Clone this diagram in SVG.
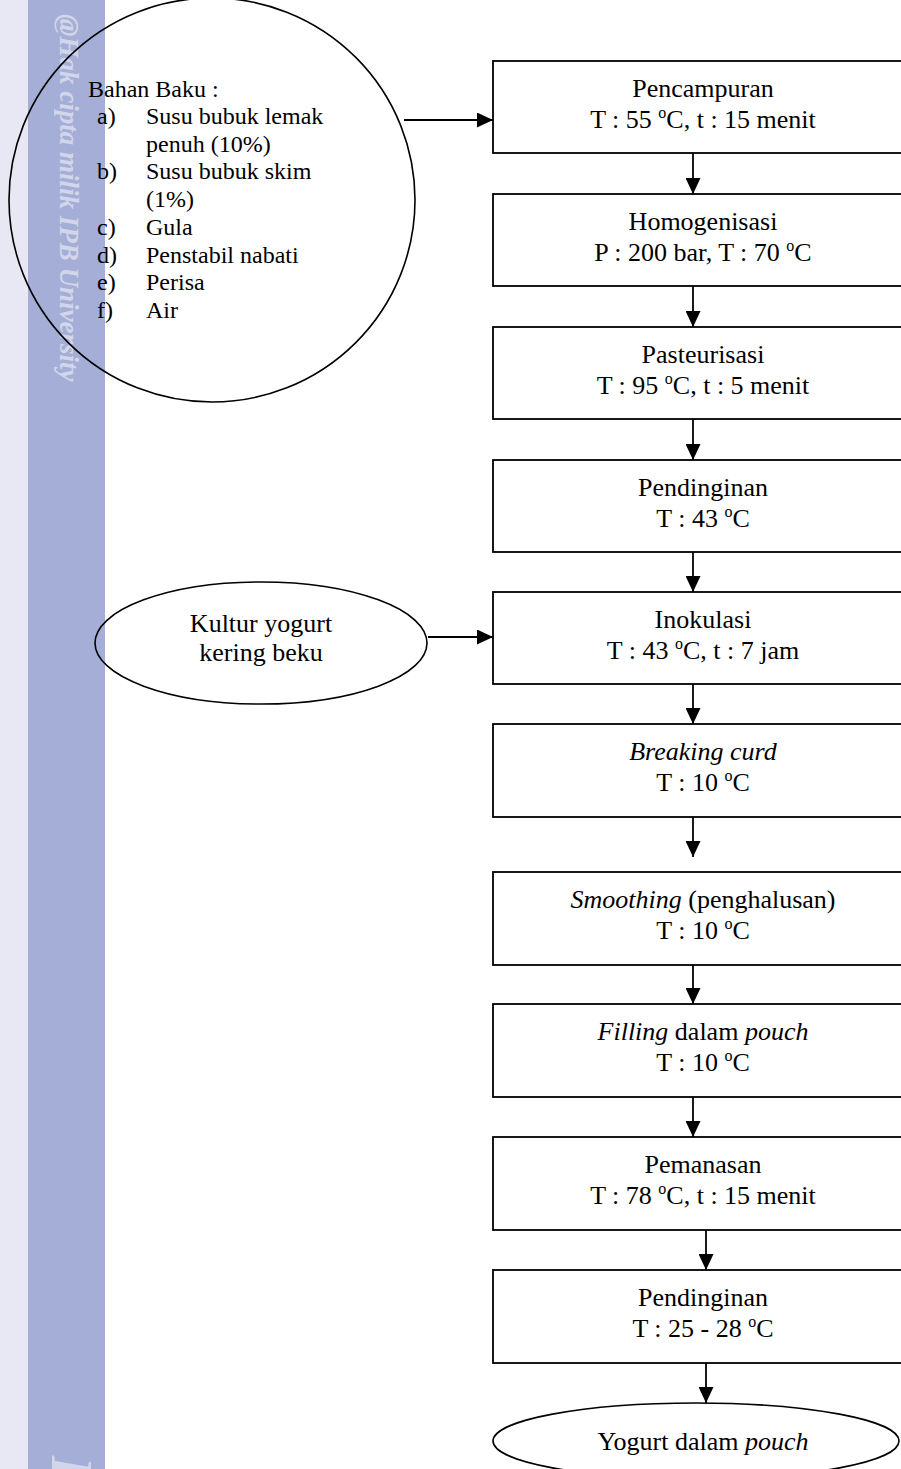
<svg xmlns="http://www.w3.org/2000/svg" width="901" height="1469" viewBox="0 0 901 1469">
<defs>
<style>
.box{fill:#fff;stroke:#000;stroke-width:1.8}
.oval{fill:none;stroke:#000;stroke-width:1.6}
.t{font-family:"Liberation Serif","Times New Roman",serif;font-size:26px;fill:#000;text-anchor:middle}
.l{font-family:"Liberation Serif","Times New Roman",serif;font-size:24px;fill:#000}
.i{font-style:italic}
.s{font-size:16px}
.wm{font-family:"Liberation Serif","Times New Roman",serif;font-weight:bold;font-style:italic;fill:#fff;opacity:.5}
#connectors line{stroke:#000;stroke-width:1.8;marker-end:url(#arr)}
</style>
<marker id="arr" markerUnits="userSpaceOnUse" markerWidth="16" markerHeight="15" refX="16" refY="7.5" orient="auto">
<path d="M0,0 L16,7.5 L0,15 Z" fill="#000"/>
</marker>
</defs>
<rect width="901" height="1469" fill="#fff"/>
<g id="sidebar">
<rect x="0" y="0" width="28" height="1469" fill="#E8E8F4"/>
<rect x="28" y="0" width="77" height="1469" fill="#A5AED6"/>
<text class="wm" font-size="27" transform="translate(60,14) rotate(90)">@Hak cipta milik IPB University</text>
<text class="wm" font-size="60" transform="translate(52,1456) rotate(90)" opacity=".8">I</text>
</g>
<g id="bahan-baku">
<ellipse class="oval" cx="212" cy="200" rx="203" ry="202"/>
<text class="l" x="88" y="97">Bahan Baku :</text>
<text class="l" x="97" y="124">a)</text><text class="l" x="146" y="124">Susu bubuk lemak</text>
<text class="l" x="146" y="152">penuh (10%)</text>
<text class="l" x="97" y="179">b)</text><text class="l" x="146" y="179">Susu bubuk skim</text>
<text class="l" x="146" y="207">(1%)</text>
<text class="l" x="97" y="235">c)</text><text class="l" x="146" y="235">Gula</text>
<text class="l" x="97" y="263">d)</text><text class="l" x="146" y="263">Penstabil nabati</text>
<text class="l" x="97" y="290">e)</text><text class="l" x="146" y="290">Perisa</text>
<text class="l" x="97" y="318">f)</text><text class="l" x="146" y="318">Air</text>
</g>
<g id="kultur">
<ellipse class="oval" cx="261" cy="643" rx="166" ry="61"/>
<text class="t" x="261" y="632">Kultur yogurt</text>
<text class="t" x="261" y="661">kering beku</text>
</g>
<g id="pencampuran">
<rect class="box" x="493" y="61" width="420" height="92"/>
<text class="t" x="703" y="97">Pencampuran</text>
<text class="t" x="703" y="128">T : 55 <tspan class="s" dy="-10">o</tspan><tspan dy="10">C, t : 15 menit</tspan></text>
</g>
<g id="homogenisasi">
<rect class="box" x="493" y="194" width="420" height="92"/>
<text class="t" x="703" y="230">Homogenisasi</text>
<text class="t" x="703" y="261">P : 200 bar, T : 70 <tspan class="s" dy="-10">o</tspan><tspan dy="10">C</tspan></text>
</g>
<g id="pasteurisasi">
<rect class="box" x="493" y="327" width="420" height="92"/>
<text class="t" x="703" y="363">Pasteurisasi</text>
<text class="t" x="703" y="394">T : 95 <tspan class="s" dy="-10">o</tspan><tspan dy="10">C, t : 5 menit</tspan></text>
</g>
<g id="pendinginan1">
<rect class="box" x="493" y="460" width="420" height="92"/>
<text class="t" x="703" y="496">Pendinginan</text>
<text class="t" x="703" y="527">T : 43 <tspan class="s" dy="-10">o</tspan><tspan dy="10">C</tspan></text>
</g>
<g id="inokulasi">
<rect class="box" x="493" y="592" width="420" height="92"/>
<text class="t" x="703" y="628">Inokulasi</text>
<text class="t" x="703" y="659">T : 43 <tspan class="s" dy="-10">o</tspan><tspan dy="10">C, t : 7 jam</tspan></text>
</g>
<g id="breaking-curd">
<rect class="box" x="493" y="724" width="420" height="93"/>
<text class="t i" x="703" y="760">Breaking curd</text>
<text class="t" x="703" y="791">T : 10 <tspan class="s" dy="-10">o</tspan><tspan dy="10">C</tspan></text>
</g>
<g id="smoothing">
<rect class="box" x="493" y="872" width="420" height="93"/>
<text class="t" x="703" y="908"><tspan class="i">Smoothing</tspan> (penghalusan)</text>
<text class="t" x="703" y="939">T : 10 <tspan class="s" dy="-10">o</tspan><tspan dy="10">C</tspan></text>
</g>
<g id="filling">
<rect class="box" x="493" y="1004" width="420" height="93"/>
<text class="t" x="703" y="1040"><tspan class="i">Filling</tspan> dalam <tspan class="i">pouch</tspan></text>
<text class="t" x="703" y="1071">T : 10 <tspan class="s" dy="-10">o</tspan><tspan dy="10">C</tspan></text>
</g>
<g id="pemanasan">
<rect class="box" x="493" y="1137" width="420" height="93"/>
<text class="t" x="703" y="1173">Pemanasan</text>
<text class="t" x="703" y="1204">T : 78 <tspan class="s" dy="-10">o</tspan><tspan dy="10">C, t : 15 menit</tspan></text>
</g>
<g id="pendinginan2">
<rect class="box" x="493" y="1270" width="420" height="93"/>
<text class="t" x="703" y="1306">Pendinginan</text>
<text class="t" x="703" y="1337">T : 25 - 28 <tspan class="s" dy="-10">o</tspan><tspan dy="10">C</tspan></text>
</g>
<g id="yogurt-pouch">
<ellipse class="oval" cx="696" cy="1441" rx="203" ry="38" fill="#fff"/>
<text class="t" x="703" y="1450">Yogurt dalam <tspan class="i">pouch</tspan></text>
</g>
<g id="connectors">
<line x1="404" y1="120" x2="493" y2="120"/>
<line x1="428" y1="637" x2="493" y2="637"/>
<line x1="693" y1="153" x2="693" y2="194"/>
<line x1="693" y1="286" x2="693" y2="327"/>
<line x1="693" y1="419" x2="693" y2="460"/>
<line x1="693" y1="552" x2="693" y2="592"/>
<line x1="693" y1="684" x2="693" y2="724"/>
<line x1="693" y1="817" x2="693" y2="857"/>
<line x1="693" y1="965" x2="693" y2="1004"/>
<line x1="693" y1="1097" x2="693" y2="1137"/>
<line x1="706" y1="1230" x2="706" y2="1270"/>
<line x1="706" y1="1363" x2="706" y2="1403"/>
</g>
</svg>
